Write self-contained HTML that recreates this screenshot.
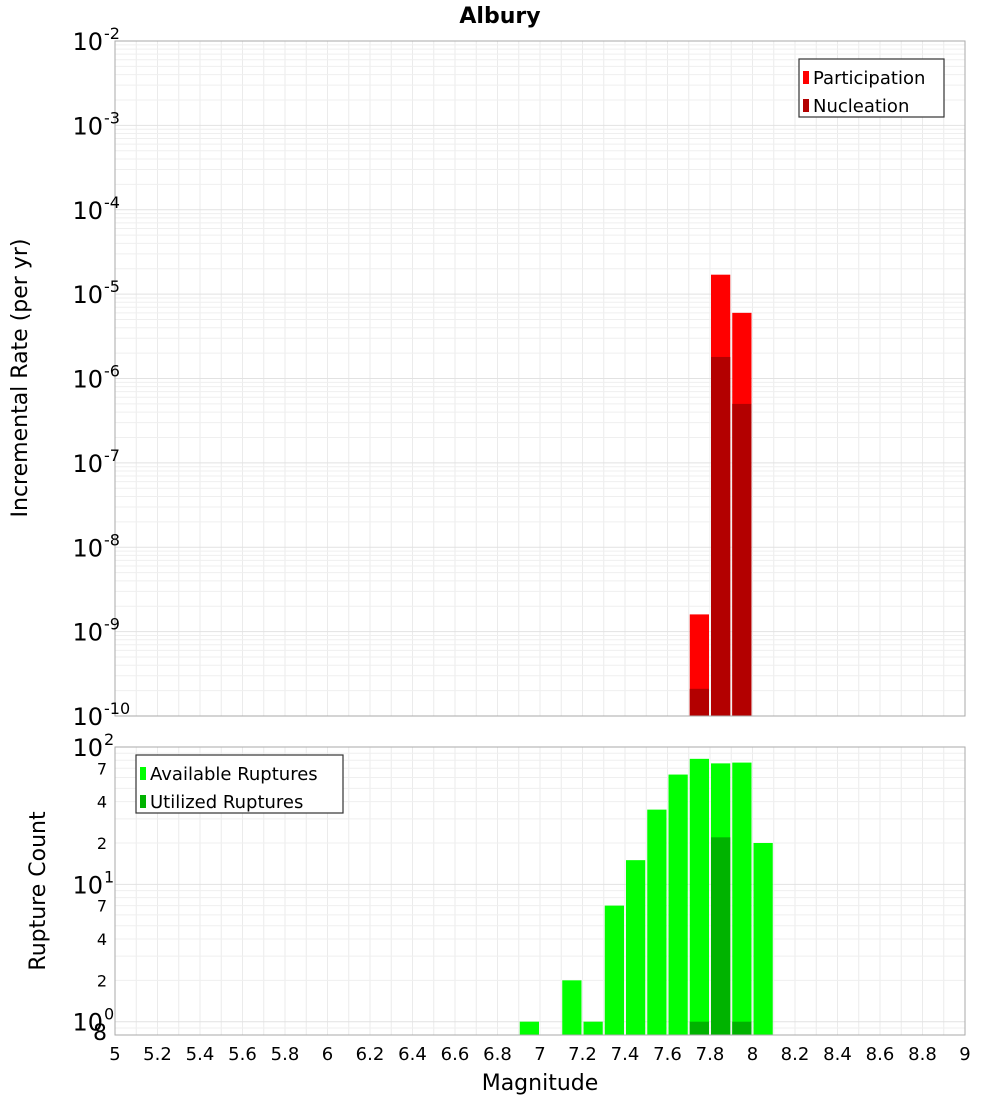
<!DOCTYPE html>
<html><head><meta charset="utf-8"><style>
body{margin:0;background:#fff;font-family:"DejaVu Sans","Liberation Sans",sans-serif}
svg text{font-family:"DejaVu Sans","Liberation Sans",sans-serif}
</style></head><body>
<svg id="c" width="1000" height="1100" xmlns="http://www.w3.org/2000/svg">
<text x="500" y="23" text-anchor="middle" font-size="22" font-weight="bold">Albury</text>
</svg>
<script>
const mags=[7.75,7.85,7.95];
const participation=[1.6e-9,1.7e-5,6e-6];
const nucleation=[2.1e-10,1.8e-6,5e-7];
const countMags=[6.95,7.15,7.25,7.35,7.45,7.55,7.65,7.75,7.85,7.95,8.05];
const available=[1,2,1,7,15,35,63,82,76,77,20];
const utilMags=[7.75,7.85,7.95];
const utilized=[1,22,1];
const xTicks=["5","5.2","5.4","5.6","5.8","6","6.2","6.4","6.6","6.8","7","7.2","7.4","7.6","7.8","8","8.2","8.4","8.6","8.8","9"];

const svg=document.getElementById('c');
const NS='http://www.w3.org/2000/svg';
function mk(tag,a,p){const e=document.createElementNS(NS,tag);for(const k in a)e.setAttribute(k,a[k]);(p||svg).appendChild(e);return e;}
const L=115,R=965;
const x=v=>L+(v-5)/4*(R-L);
const T1=41,B1=716;const y1=v=>T1+(-2-Math.log10(v))/8*(B1-T1);
const T2=747,B2=1035;const lmin=Math.log10(0.8);const y2=v=>B2-(Math.log10(v)-lmin)/(2-lmin)*(B2-T2);

function grid(top,bot,yf,lo,hi,minv){
  for(let xv=5;xv<=9.001;xv+=0.1){const l=mk('line',{x1:x(xv),x2:x(xv),y1:top,y2:bot,stroke:'#ebebeb','stroke-width':1});}
  for(let e=lo;e<hi;e++)for(let m=1;m<10;m++){const v=m*Math.pow(10,e);if(v<minv)continue;const yy=yf(v);if(yy<top-0.5)continue;const l=mk('line',{x1:L,x2:R,y1:yy,y2:yy,stroke:m==1?'#e2e2e2':'#efefef','stroke-width':1});}
}
grid(T1,B1,y1,-10,-2,1e-10);
grid(T2,B2,y2,-1,2,0.8);

const bw=(R-L)/40;
mags.forEach((m,i)=>{
  const r=mk('rect',{x:x(m)-bw/2+1,width:bw-2,y:y1(participation[i]),height:B1-y1(participation[i]),fill:'#ff0000'});
  
  const n=mk('rect',{x:x(m)-bw/2+1,width:bw-2,y:y1(nucleation[i]),height:B1-y1(nucleation[i]),fill:'#b30000'});
  
});
countMags.forEach((m,i)=>{
  const r=mk('rect',{x:x(m)-bw/2+1,width:bw-2,y:y2(available[i]),height:B2-y2(available[i]),fill:'#00ff00'});
  
});
utilMags.forEach((m,i)=>{
  const r=mk('rect',{x:x(m)-bw/2+1,width:bw-2,y:y2(utilized[i]),height:B2-y2(utilized[i]),fill:'#00b300'});
  
});
[[T1,B1],[T2,B2]].forEach(([t,b])=>{const f=mk('rect',{x:L,y:t,width:R-L,height:b-t,fill:'none',stroke:'#aaa','stroke-width':1});});

// top y labels
for(let e=-2;e>=-10;e--){const yy=y1(Math.pow(10,e));const t=mk('text',{x:103,y:yy+9,'text-anchor':'end','font-size':24});t.textContent='10';
 const s=mk('text',{x:104,y:yy-2,'font-size':16});s.textContent=String(e);}
// bottom y labels
[[100,'10','2'],[10,'10','1'],[1,'10','0']].forEach(([v,b,ex])=>{const yy=y2(v);const t=mk('text',{x:103,y:yy+9,'text-anchor':'end','font-size':24});t.textContent=b;
 const s=mk('text',{x:104,y:yy-2,'font-size':16});s.textContent=ex;});
[[70,'7'],[40,'4'],[20,'2'],[7,'7'],[4,'4'],[2,'2'],[0.8,'8']].forEach(([v,s0])=>{const t=mk('text',{x:107,y:y2(v)+(v==0.8?5:6),'text-anchor':'end','font-size':v==0.8?22:16});t.textContent=s0;});
xTicks.forEach(s=>{const t=mk('text',{x:x(+s),y:1060,'text-anchor':'middle','font-size':18});t.textContent=s;});
let t=mk('text',{x:540,y:1090,'text-anchor':'middle','font-size':22});t.textContent='Magnitude';
t=mk('text',{x:27,y:378,'text-anchor':'middle','font-size':22,transform:'rotate(-90 27 378)'});t.textContent='Incremental Rate (per yr)';
t=mk('text',{x:45,y:891,'text-anchor':'middle','font-size':22,transform:'rotate(-90 45 891)'});t.textContent='Rupture Count';

function legend(x0,y0,w,items){const g=mk('g',{});
 mk('rect',{x:x0,y:y0,width:w,height:58,fill:'#fff',stroke:'#333','stroke-width':1.2},g);
 items.forEach(([c,s],i)=>{const yy=y0+19+i*28;const r=mk('rect',{x:x0+4,y:yy-7,width:6,height:13,fill:c},g);
 const tx=mk('text',{x:x0+14,y:yy+6,'font-size':18},g);tx.textContent=s;});}
legend(799,59,145,[['#ff0000','Participation'],['#b30000','Nucleation']]);
legend(136,755,207,[['#00ff00','Available Ruptures'],['#00b300','Utilized Ruptures']]);
</script>
</body></html>
